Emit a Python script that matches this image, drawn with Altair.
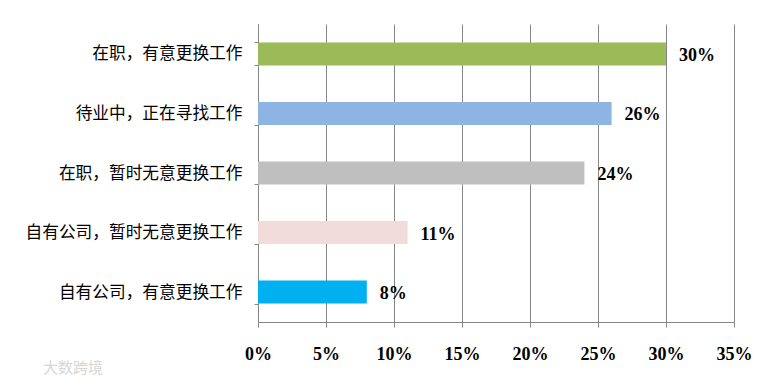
import altair as alt
import pandas as pd

categories = ["在职，有意更换工作", "待业中，正在寻找工作", "在职，暂时无意更换工作",
              "自有公司，暂时无意更换工作", "自有公司，有意更换工作"]
values = [0.30, 0.26, 0.24, 0.11, 0.08]
colors = ["#9BBB59", "#8EB4E3", "#BFBFBF", "#F2DCDB", "#00B0F0"]
x_ticks = [0, 0.05, 0.10, 0.15, 0.20, 0.25, 0.30, 0.35]

df = pd.DataFrame({"cat": categories, "val": values, "color": colors})

y_enc = alt.Y("cat:N", sort=categories, title=None,
              scale=alt.Scale(paddingInner=0.615, paddingOuter=0.31),
              axis=alt.Axis(tickBand="extent", grid=False, domainColor="#868686",
                            tickColor="#868686", tickSize=4, labelPadding=12,
                            labelFont="Noto Sans CJK SC", labelFontSize=16.7,
                            labelColor="#000000", labelLimit=0))
x_enc = alt.X("val:Q", title=None,
              scale=alt.Scale(domain=[0, 0.35], nice=False),
              axis=alt.Axis(values=x_ticks, format=".0%", grid=True, gridColor="#868686",
                            gridWidth=1, domainColor="#868686", tickColor="#868686",
                            tickSize=5, labelPadding=18, labelFont="Liberation Serif",
                            labelFontWeight="bold", labelFontSize=18, labelColor="#000000",
                            labelFlush=False))

base = alt.Chart(df)
bars = base.mark_bar().encode(
    x=x_enc, y=y_enc,
    color=alt.Color("color:N", scale=None),
)
labels = base.mark_text(align="left", baseline="middle", dx=13, dy=2,
                        font="Liberation Serif", fontWeight="bold", fontSize=18,
                        color="#000000").encode(
    x="val:Q", y=alt.Y("cat:N", sort=categories),
    text=alt.Text("val:Q", format=".0%"),
)
wm = alt.Chart(pd.DataFrame({"t": ["大数跨境"]})).mark_text(
    align="left", baseline="middle", font="Noto Sans CJK SC", fontSize=15,
    color="#d6d6d6").encode(x=alt.value(-215), y=alt.value(344), text="t:N")

chart = alt.layer(bars, labels, wm).properties(
    width=476, height=298,
    autosize=alt.AutoSizeParams(type="none"),
    padding={"left": 250, "top": 16, "right": 30, "bottom": 55},
).configure_view(stroke=None).configure_axisX(gridColor="#868686")

chart.save("out.html", embed_options={"renderer": "svg", "actions": False})
